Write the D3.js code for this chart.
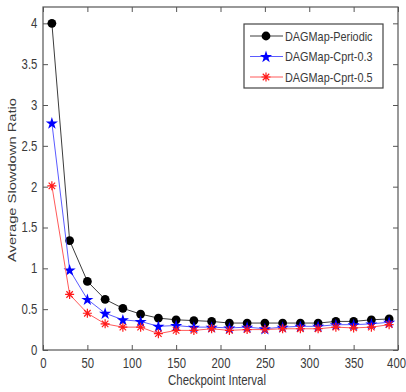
<!DOCTYPE html>
<html>
<head>
<meta charset="utf-8">
<script src="https://cdn.jsdelivr.net/npm/d3@7"></script>
<style>
  body { margin: 0; background: #fff; }
  svg { display: block; }
  text { font-family: "Liberation Sans", Arial, sans-serif; fill: #3a3a3a; }
</style>
</head>
<body>
<svg class="main" width="406" height="392"></svg>
<script>
  // checkpoint intervals
  const intervals = [10, 30, 50, 70, 90, 110, 130, 150, 170, 190, 210, 230, 250, 270, 290, 310, 330, 350, 370, 390];

  const periodic = [4.0, 1.34, 0.84, 0.62, 0.51, 0.44, 0.39, 0.37, 0.36, 0.35, 0.33, 0.33, 0.33, 0.33, 0.33, 0.33, 0.35, 0.35, 0.37, 0.38];
  const cprt03 = [2.78, 0.98, 0.62, 0.45, 0.37, 0.35, 0.29, 0.30, 0.28, 0.28, 0.27, 0.28, 0.26, 0.28, 0.29, 0.29, 0.31, 0.31, 0.32, 0.34];
  const cprt05 = [2.01, 0.68, 0.45, 0.32, 0.28, 0.28, 0.20, 0.24, 0.24, 0.26, 0.24, 0.25, 0.25, 0.26, 0.26, 0.26, 0.28, 0.27, 0.28, 0.31];

  const xTicks = [0, 50, 100, 150, 200, 250, 300, 350, 400];
  const yTicks = [0, 0.5, 1, 1.5, 2, 2.5, 3, 3.5, 4];

  const seriesNames = ["DAGMap-Periodic", "DAGMap-Cprt-0.3", "DAGMap-Cprt-0.5"];

(function () {
  const series = [
    { name: seriesNames[0], values: periodic, line: "#3c3c3c", mark: "#000", shape: "dot" },
    { name: seriesNames[1], values: cprt03, line: "#5b5bff", mark: "#0000ff", shape: "star" },
    { name: seriesNames[2], values: cprt05, line: "#ff5a5a", mark: "#ff1a1a", shape: "asterisk" }
  ];

  const svg = d3.select("svg.main");
  const mLeft = 43, mRight = 398, mTop = 7, mBottom = 350;
  // the picture was squeezed sideways, so its text is narrow
  const tickSqueeze = 0.81;
  const legendSqueeze = 0.87;

  const x = d3.scaleLinear().domain([0, 400]).range([mLeft, mRight]);
  const y = d3.scaleLinear().domain([0, 4.2]).range([mBottom, mTop]);

  const axisColor = "#555";

  // box
  svg.append("rect")
    .attr("x", mLeft).attr("y", mTop)
    .attr("width", mRight - mLeft).attr("height", mBottom - mTop)
    .attr("fill", "none").attr("stroke", axisColor).attr("stroke-width", 1.2);

  function styleAxis(g) {
    g.select(".domain").remove();
    g.selectAll(".tick line").attr("stroke", axisColor);
    g.selectAll(".tick text").attr("font-size", 14).attr("fill", "#3a3a3a")
      .attr("font-family", null)
      .attr("transform", `scale(${tickSqueeze},1)`);
  }

  const xAxisG = svg.append("g").attr("transform", `translate(0,${mBottom})`)
    .call(d3.axisBottom(x).tickValues(xTicks).tickSize(-5).tickPadding(8).tickFormat(d3.format("d")))
    .call(styleAxis);
  // keep the last label inside the window
  xAxisG.selectAll(".tick text").filter(d => d === 400)
    .attr("text-anchor", "end")
    .attr("x", (406 - 0.5 - mRight) / tickSqueeze);

  svg.append("g").attr("transform", `translate(0,${mTop})`)
    .call(d3.axisTop(x).tickValues(xTicks).tickSize(-5).tickFormat(""))
    .call(styleAxis);
  svg.append("g").attr("transform", `translate(${mLeft},0)`)
    .call(d3.axisLeft(y).tickValues(yTicks).tickSize(-5).tickPadding(7).tickFormat(d => d))
    .call(styleAxis);
  svg.append("g").attr("transform", `translate(${mRight},0)`)
    .call(d3.axisRight(y).tickValues(yTicks).tickSize(-5).tickFormat(""))
    .call(styleAxis);

  // axis titles
  svg.append("text")
    .attr("x", 217).attr("y", 385)
    .attr("text-anchor", "middle").attr("font-size", 14.5)
    .attr("textLength", 98).attr("lengthAdjust", "spacingAndGlyphs")
    .text("Checkpoint Interval");
  svg.append("text")
    .attr("transform", "translate(16,180) rotate(-90) scale(1,0.8)")
    .attr("text-anchor", "middle").attr("font-size", 14.5)
    .attr("textLength", 164).attr("lengthAdjust", "spacingAndGlyphs")
    .text("Average Slowdown Ratio");

  const line = d3.line().x(d => x(d[0])).y(d => y(d[1]));

  function drawMarker(g, shape, color, cx, cy) {
    if (shape === "dot") {
      g.append("circle").attr("cx", cx).attr("cy", cy).attr("r", 4.4).attr("fill", color);
    } else if (shape === "star") {
      g.append("path")
        .attr("d", d3.symbol(d3.symbolStar, 46)())
        .attr("transform", `translate(${cx},${cy + 0.5})`)
        .attr("fill", color);
    } else {
      const r = 4.5, r2 = r * 0.72;
      const p = `M${-r},0L${r},0M0,${-r}L0,${r}M${-r2},${-r2}L${r2},${r2}M${-r2},${r2}L${r2},${-r2}`;
      g.append("path")
        .attr("d", p)
        .attr("transform", `translate(${cx},${cy})`)
        .attr("stroke", color).attr("stroke-width", 1.2).attr("fill", "none");
    }
  }

  series.forEach(s => {
    const pts = intervals.map((d, i) => [d, s.values[i]]);
    const g = svg.append("g");
    g.append("path")
      .attr("d", line(pts))
      .attr("fill", "none").attr("stroke", s.line).attr("stroke-width", 1);
    pts.forEach(p => drawMarker(g, s.shape, s.mark, x(p[0]), y(p[1])));
  });

  // legend
  const lg = svg.append("g");
  lg.append("rect")
    .attr("x", 244).attr("y", 24).attr("width", 139).attr("height", 64)
    .attr("fill", "#fff").attr("stroke", "#444").attr("stroke-width", 1.2);
  series.forEach((s, i) => {
    const ly = 36 + i * 20.5;
    lg.append("line")
      .attr("x1", 250).attr("x2", 283).attr("y1", ly).attr("y2", ly)
      .attr("stroke", s.line).attr("stroke-width", 1);
    drawMarker(lg, s.shape, s.mark, 266, ly);
    lg.append("text")
      .attr("transform", `translate(285,${ly + 4.5}) scale(${legendSqueeze},1)`)
      .attr("font-size", 12.5)
      .text(s.name);
  });
})();
</script>
</body>
</html>
